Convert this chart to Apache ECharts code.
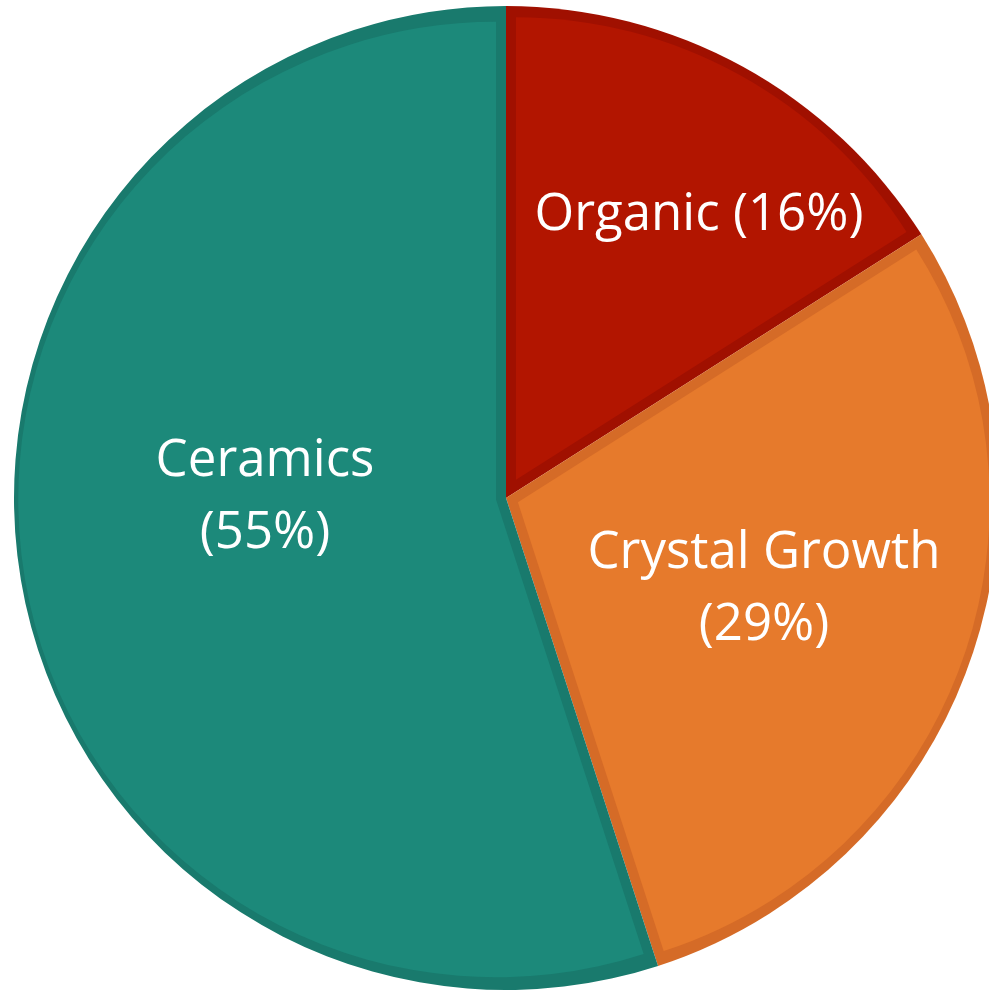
<!DOCTYPE html>
<html>
<head>
<meta charset="utf-8">
<script src="https://cdn.jsdelivr.net/npm/echarts@6/dist/echarts.min.js"></script>
<style>
  html, body { margin: 0; padding: 0; background: #ffffff; }
  #chart { width: 989px; height: 990px; }
</style>
</head>
<body>
<div id="chart"></div>
<script>
// Research area shares (percent)
const categories = ['Organic', 'Crystal Growth', 'Ceramics'];
const shares = [16, 29, 55];
const labelTexts = ['Organic (16%)', 'Crystal Growth\n(29%)', 'Ceramics\n(55%)'];

// Slice colours: inner fill and darker rim
const fillColors = ['#b21500', '#e67a2c', '#1c897a'];
const rimColors = ['#a01000', '#d56b27', '#197a6d'];

// Layout
const CX = 506, CY = 498, R = 492, RIM = 10;
const labelPos = [[699, 215], [764, 589], [265, 497]];

const chart = echarts.init(document.getElementById('chart'), null, { renderer: 'canvas' });

const total = shares.reduce((a, b) => a + b, 0);

// Dark base disc: every slice in its rim colour
const series = [{
  type: 'pie',
  silent: true,
  center: [CX, CY],
  radius: [0, R],
  startAngle: 90,
  clockwise: true,
  label: { show: false },
  labelLine: { show: false },
  data: categories.map((name, i) => ({
    name, value: shares[i], itemStyle: { color: rimColors[i] }
  }))
}];

// Each slice's lighter interior: the same wedge pulled inwards so that a
// rim of constant width stays visible along both radii and the outer arc.
let acc = 0;
categories.forEach((name, i) => {
  const start = acc / total, end = (acc + shares[i]) / total;
  acc += shares[i];
  const bis = (start + end) * Math.PI;          // clockwise from 12 o'clock
  const half = (end - start) * Math.PI;
  const d = RIM / Math.sin(half);
  const cx = CX + d * Math.sin(bis);
  const cy = CY - d * Math.cos(bis);
  const r = (R - RIM) - d * (1 + Math.cos(half)) / 2;
  series.push({
    type: 'pie',
    silent: true,
    center: [cx, cy],
    radius: [0, r],
    startAngle: 90,
    clockwise: true,
    labelLine: { show: false },
    label: {
      show: true,
      position: 'inside',
      color: '#ffffff',
      fontFamily: 'Open Sans',
      fontSize: 51,
      lineHeight: 72,
      align: 'center',
      verticalAlign: 'middle'
    },
    labelLayout: (p) => p.dataIndex === i
      ? { x: labelPos[i][0], y: labelPos[i][1], align: 'center', verticalAlign: 'middle' }
      : {},
    data: categories.map((n, j) => ({
      name: n,
      value: shares[j],
      itemStyle: { color: j === i ? fillColors[j] : 'rgba(0,0,0,0)' },
      label: j === i ? { formatter: labelTexts[j] } : { show: false }
    }))
  });
});

chart.setOption({
  animation: false,
  backgroundColor: '#ffffff',
  series
});
</script>
</body>
</html>
